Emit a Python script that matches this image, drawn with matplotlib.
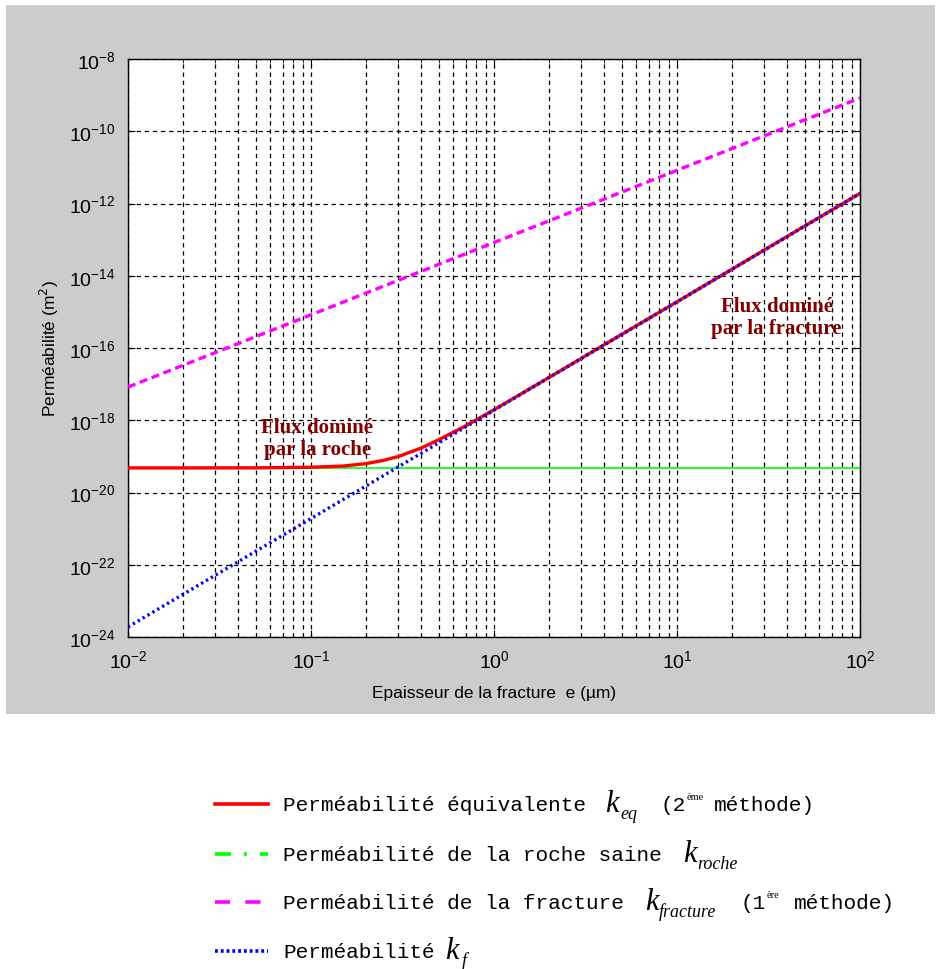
import matplotlib
matplotlib.use("Agg")
import matplotlib.pyplot as plt
from matplotlib.patches import Rectangle
from matplotlib.ticker import LogLocator, NullLocator

plt.rcParams['font.family'] = ['Liberation Sans', 'DejaVu Sans']

# Data, e in micrometres, k in m^2
e_pts = [0.01, 0.02, 0.05, 0.1, 0.15, 0.2, 0.25, 0.3, 0.4, 0.5, 0.7,
         1, 2, 5, 10, 20, 50, 100]
k_eq = [4.8e-20, 4.8e-20, 4.82e-20, 5.0e-20, 5.4e-20, 6.3e-20, 7.8e-20,
        9.9e-20, 1.7e-19, 2.9e-19, 7.0e-19, 1.95e-18, 1.53e-17, 2.4e-16,
        1.9e-15, 1.52e-14, 2.4e-13, 1.9e-12]

e_dec = [0.01, 0.1, 1, 10, 100]
k_roche = [4.8e-20, 4.8e-20, 4.8e-20, 4.8e-20, 4.8e-20]
k_fracture = [8.3e-18, 8.3e-16, 8.3e-14, 8.3e-12, 8.3e-10]
k_f = [1.9e-24, 1.9e-21, 1.9e-18, 1.9e-15, 1.9e-12]

y_ticks = [1e-24, 1e-22, 1e-20, 1e-18, 1e-16, 1e-14, 1e-12, 1e-10, 1e-8]

W, H = 936, 970
fig = plt.figure(figsize=(W / 100, H / 100), dpi=100)
fig.patch.set_facecolor('white')

# grey matlab-like figure area (behind the axes)
bg = fig.add_axes([0, 0, 1, 1], zorder=-5)
bg.set_xlim(0, W)
bg.set_ylim(H, 0)
bg.axis('off')
bg.add_patch(Rectangle((6, 6), 929, 709, facecolor='#cccccc', edgecolor='none'))

ax = fig.add_axes([128 / W, 1 - 638 / H, 732 / W, 578 / H], zorder=1)
ax.set_facecolor('white')

ax.plot(e_dec, k_roche, color='#00ff00', lw=1.2, zorder=2)
ax.plot(e_pts, k_eq, color='#ff0000', lw=2.4, zorder=3)
ax.plot(e_dec, k_fracture, color='#ff00ff', lw=2.4, dashes=(2.4, 1.4), zorder=3)
ax.plot(e_dec, k_f, color='#0000ff', lw=2.4, linestyle=(0, (0.7, 1.0)), zorder=4)

ax.set_xscale('log')
ax.set_yscale('log')
ax.set_xlim(1e-2, 1e2)
ax.set_ylim(1e-24, 1e-8)
ax.set_yticks(y_ticks)
ax.yaxis.set_minor_locator(NullLocator())
ax.xaxis.set_minor_locator(LogLocator(base=10, subs=range(2, 10)))

ax.grid(True, which='major', axis='both', color='black', lw=0.9, dashes=(3.5, 3))
ax.grid(True, which='minor', axis='x', color='black', lw=0.9, dashes=(3.5, 3))
ax.tick_params(which='both', direction='in', top=True, right=True,
               labelsize=14, pad=9)
ax.tick_params(which='major', length=5)
ax.tick_params(which='minor', length=3)
for s in ax.spines.values():
    s.set_linewidth(1.0)

ax.set_xlabel('Epaisseur de la fracture  e (\u00b5m)', fontsize=12.5, labelpad=10)
ax.set_ylabel('Perméabilité (m$^2$)', fontsize=12.5, labelpad=6)

ann = dict(color='#800000', fontsize=15, fontweight='bold',
           family='Liberation Serif', ha='center', va='center',
           linespacing=1.15)
ax.text(0.108, 10 ** -18.5, 'Flux dominé\npar la roche', **ann)
ax.text(35, 10 ** -15.14, 'Flux dominé\npar la fracture', **ann)

# hand-made legend below the figure area, in pixel coordinates
lg = fig.add_axes([0, 0, 1, 1], zorder=2)
lg.set_xlim(0, W)
lg.set_ylim(H, 0)
lg.axis('off')
lg.patch.set_alpha(0)

mono = dict(family='Liberation Mono', fontsize=15.2, va='baseline')
kk = dict(family='Liberation Serif', style='italic', fontsize=22, va='baseline')
sub = dict(family='Liberation Serif', style='italic', fontsize=13, va='baseline')
sup = dict(family='Liberation Serif', fontsize=7.5, va='baseline')

rows = [805, 855, 903, 952]
lg.plot([215, 268], [rows[0]] * 2, color='#ff0000', lw=2.6)
lg.plot([215, 268], [rows[1]] * 2, color='#00ff00', lw=2.6,
        linestyle=(0, (4.4, 3.6, 0.8, 3.6)))
lg.plot([215, 262], [rows[2]] * 2, color='#ff00ff', lw=2.6, dashes=(4.2, 4.2))
lg.plot([215, 268], [rows[3]] * 2, color='#0000ff', lw=2.6,
        linestyle=(0, (0.8, 0.8)))

y = rows[0]
lg.text(283, y + 6, 'Perméabilité équivalente', **mono)
lg.text(605, y + 7, 'k', **kk)
lg.text(620, y + 14, 'eq', **sub)
lg.text(660, y + 6, '(2', **mono)
lg.text(687, y - 5, 'ème', **sup)
lg.text(714, y + 6, 'méthode)', **mono)

y = rows[1]
lg.text(283, y + 6, 'Perméabilité de la roche saine', **mono)
lg.text(683, y + 7, 'k', **kk)
lg.text(697, y + 14, 'roche', **sub)

y = rows[2]
lg.text(283, y + 6, 'Perméabilité de la fracture', **mono)
lg.text(645, y + 7, 'k', **kk)
lg.text(659, y + 14, 'fracture', **sub)
lg.text(740, y + 6, '(1', **mono)
lg.text(767, y - 5, 'ère', **sup)
lg.text(794, y + 6, 'méthode)', **mono)

y = rows[3]
lg.text(283, y + 6, 'Perméabilité', **mono)
lg.text(445, y + 7, 'k', **kk)
lg.text(462, y + 14, 'f', **sub)

fig.savefig('out.png', dpi=100)
